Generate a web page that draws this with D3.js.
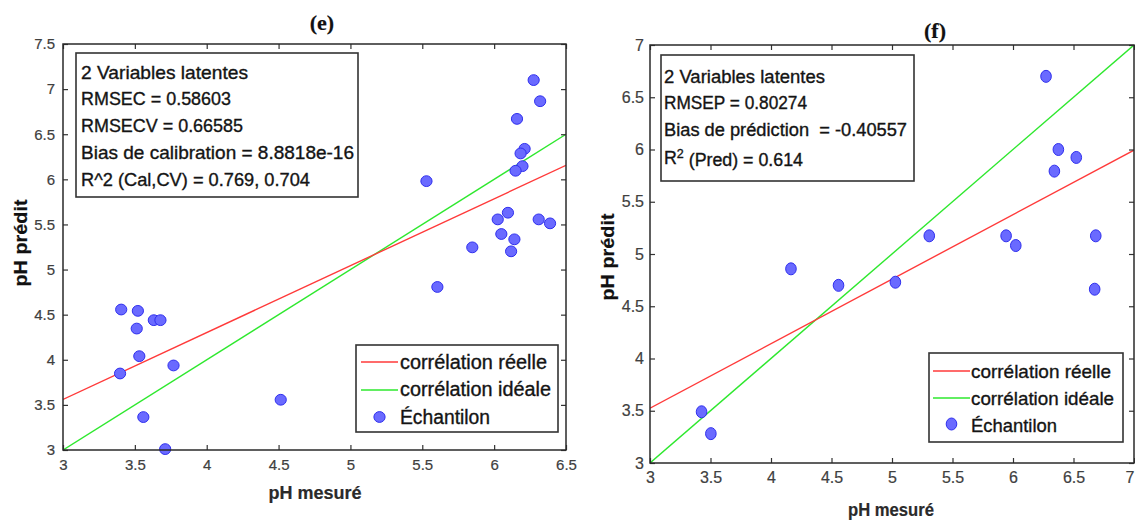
<!DOCTYPE html>
<html>
<head>
<meta charset="utf-8">
<script src="https://cdn.jsdelivr.net/npm/d3@7"></script>
<style>
  body { margin: 0; background: #fff; }
  svg { display: block; }
  text { white-space: pre; }
</style>
</head>
<body>
<svg id="chart" width="1135" height="521"></svg>
<script>
// ---- Panel (e): calibration set ----
const measuredE  = [6.275, 6.32, 6.159, 6.212, 6.184, 6.197, 6.149, 5.529, 6.096, 6.025, 6.05, 6.141, 6.118, 6.31, 6.389, 5.848, 5.605,
                    3.405, 3.521, 3.513, 3.632, 3.678, 3.531, 3.397, 3.769, 4.515, 3.559, 3.711];
const predictedE = [7.10, 6.866, 6.67, 6.338, 6.287, 6.146, 6.095, 5.98, 5.63, 5.556, 5.394, 5.335, 5.202, 5.556, 5.512, 5.246, 4.807,
                    4.557, 4.542, 4.346, 4.439, 4.439, 4.04, 3.848, 3.937, 3.557, 3.365, 3.01];
const xTicksE = [3, 3.5, 4, 4.5, 5, 5.5, 6, 6.5];
const yTicksE = [3, 3.5, 4, 4.5, 5, 5.5, 6, 6.5, 7, 7.5];
const fitXE = [3, 6.5];
const fitYE = [3.56, 6.155];
const statsE = ["2 Variables latentes", "RMSEC = 0.58603", "RMSECV = 0.66585",
                "Bias de calibration = 8.8818e-16", "R^2 (Cal,CV) = 0.769, 0.704"];

// ---- Panel (f): prediction set ----
const measuredF  = [6.273, 6.375, 6.523, 6.342, 5.943, 6.023, 6.684, 6.675, 5.308, 5.028, 4.558, 4.165, 3.426, 3.503];
const predictedF = [6.70, 6.0, 5.924, 5.793, 5.174, 5.081, 5.174, 4.663, 5.174, 4.73, 4.70, 4.858, 3.49, 3.281];
const xTicksF = [3, 3.5, 4, 4.5, 5, 5.5, 6, 6.5, 7];
const yTicksF = [3, 3.5, 4, 4.5, 5, 5.5, 6, 6.5, 7];
const fitXF = [3, 7];
const fitYF = [3.524, 5.994];
const statsF = ["2 Variables latentes", "RMSEP = 0.80274", "Bias de prédiction  = -0.40557", "R|2| (Pred) = 0.614"];

const legendLabels = ["corrélation réelle", "corrélation idéale", "Échantilon"];

const SANS = '"Liberation Sans", Arial, sans-serif';
const SERIF = '"Liberation Serif", "Times New Roman", serif';
const RED = "#ff3a3a", GREEN = "#2ee82e", DOT_FILL = "#6a6aff", DOT_EDGE = "#2f2fee";
const svg = d3.select("#chart");
const defs = svg.append("defs");

// Slightly heavier text rendering
function ink(sel, color, w) {
  return sel.style("fill", color).style("stroke", color).style("stroke-width", w);
}

// Writes a line of text; "|2|" marks a superscript 2.
function writeLine(sel, str) {
  const parts = str.split("|");
  parts.forEach((s, i) => {
    if (i % 2 === 1) sel.append("tspan").attr("dy", "-0.45em").style("font-size", "0.7em").text(s);
    else if (i > 0) sel.append("tspan").attr("dy", "0.45em").text(s);
    else sel.append("tspan").text(s);
  });
}

function drawPanel(p) {
  const g = svg.append("g");
  const x = d3.scaleLinear().domain(p.xDomain).range([p.left, p.right]);
  const y = d3.scaleLinear().domain(p.yDomain).range([p.bottom, p.top]);

  defs.append("clipPath").attr("id", p.id + "-clip")
    .append("rect").attr("x", p.left).attr("y", p.top)
    .attr("width", p.right - p.left).attr("height", p.bottom - p.top);

  const plot = g.append("g").attr("clip-path", `url(#${p.id}-clip)`);

  // ideal correlation y = x
  plot.append("line")
    .attr("x1", x(p.xDomain[0])).attr("y1", y(p.xDomain[0]))
    .attr("x2", x(p.xDomain[1])).attr("y2", y(p.xDomain[1]))
    .attr("stroke", GREEN).attr("stroke-width", 1.4);

  // fitted correlation
  plot.append("line")
    .attr("x1", x(p.fitX[0])).attr("y1", y(p.fitY[0]))
    .attr("x2", x(p.fitX[1])).attr("y2", y(p.fitY[1]))
    .attr("stroke", RED).attr("stroke-width", 1.4);

  // samples
  g.append("g").selectAll("ellipse")
    .data(d3.zip(p.xs, p.ys))
    .join("ellipse")
    .attr("cx", d => x(d[0])).attr("cy", d => y(d[1]))
    .attr("rx", p.rx).attr("ry", p.ry)
    .attr("fill", DOT_FILL).attr("stroke", DOT_EDGE).attr("stroke-width", 1);

  // axes with inward ticks on all four sides
  const fmt = d3.format("~g");
  const axes = [
    [d3.axisBottom(x).tickValues(p.xTicks).tickFormat(fmt), `translate(0,${p.bottom})`],
    [d3.axisTop(x).tickValues(p.xTicks).tickFormat(""), `translate(0,${p.top})`],
    [d3.axisLeft(y).tickValues(p.yTicks).tickFormat(fmt), `translate(${p.left},0)`],
    [d3.axisRight(y).tickValues(p.yTicks).tickFormat(""), `translate(${p.right},0)`]
  ];
  axes.forEach(([ax, tr], i) => {
    const a = g.append("g").attr("transform", tr)
      .call(ax.tickSizeInner(-5).tickSizeOuter(0).tickPadding(i === 0 ? p.xPad : p.yPad));
    a.select(".domain").remove();
    a.selectAll(".tick line").attr("stroke", "#333").attr("stroke-width", 1.2);
    const t = a.selectAll(".tick text").style("font-family", SANS).style("font-size", p.tickFont + "px");
    ink(t, "#404040", 0.2);
    if (i === 0) {
      // keep the last label inside the page edge
      t.filter(d => x(d) > 1125).attr("text-anchor", "end").attr("x", 1134 - x(d3.max(p.xTicks)));
    }
  });

  // axes frame
  g.append("rect").attr("x", p.left).attr("y", p.top)
    .attr("width", p.right - p.left).attr("height", p.bottom - p.top)
    .attr("fill", "none").attr("stroke", "#2a2a2a").attr("stroke-width", 1.5);

  // title and axis titles
  ink(g.append("text").attr("x", p.title[1]).attr("y", p.title[2])
    .attr("text-anchor", "middle").style("font-family", SERIF)
    .style("font-weight", "bold").style("font-size", "22px").text(p.title[0]), "#111", 0.2);
  ink(g.append("text").attr("x", p.xLabel[0]).attr("y", p.xLabel[1])
    .attr("text-anchor", "middle").style("font-family", SANS).style("font-weight", "bold").style("font-size", "18px")
    .attr("textLength", p.xLabel[2]).attr("lengthAdjust", "spacingAndGlyphs")
    .text("pH mesuré"), "#2a2a2a", 0.2);
  ink(g.append("text").attr("transform", `translate(${p.yLabel[0]},${p.yLabel[1]}) rotate(-90)`)
    .attr("text-anchor", "middle").style("font-family", SANS).style("font-weight", "bold").style("font-size", "18px")
    .attr("textLength", p.yLabel[2]).attr("lengthAdjust", "spacingAndGlyphs")
    .text("pH prédit"), "#111", 0.2);

  // statistics box
  const sb = p.statBox;
  g.append("rect").attr("x", sb.x).attr("y", sb.y).attr("width", sb.w).attr("height", sb.h)
    .attr("fill", "#fff").attr("stroke", "#333").attr("stroke-width", 1.6);
  p.stats.forEach((s, i) => {
    const t = g.append("text").attr("x", sb.tx).attr("y", sb.base[i])
      .style("font-family", SANS).style("font-size", sb.font + "px")
      .attr("textLength", sb.widths[i]).attr("lengthAdjust", "spacingAndGlyphs");
    ink(t, "#141414", 0.35);
    writeLine(t, s);
  });

  // legend
  const lg = p.legend;
  g.append("rect").attr("x", lg.x).attr("y", lg.y).attr("width", lg.w).attr("height", lg.h)
    .attr("fill", "#fff").attr("stroke", "#333").attr("stroke-width", 1.6);
  [RED, GREEN].forEach((c, i) => {
    g.append("line").attr("x1", lg.lx[0]).attr("x2", lg.lx[1])
      .attr("y1", lg.rows[i]).attr("y2", lg.rows[i])
      .attr("stroke", c).attr("stroke-width", 1.6);
  });
  g.append("ellipse").attr("cx", (lg.lx[0] + lg.lx[1]) / 2).attr("cy", lg.rows[2])
    .attr("rx", p.rx).attr("ry", p.ry)
    .attr("fill", DOT_FILL).attr("stroke", DOT_EDGE).attr("stroke-width", 1);
  legendLabels.forEach((s, i) => {
    ink(g.append("text").attr("x", lg.tx).attr("y", lg.base[i])
      .style("font-family", SANS).style("font-size", lg.font + "px")
      .attr("textLength", lg.widths[i]).attr("lengthAdjust", "spacingAndGlyphs")
      .text(s), "#141414", 0.35);
  });
}

drawPanel({
  id: "e", xs: measuredE, ys: predictedE, fitX: fitXE, fitY: fitYE,
  xDomain: [3, 6.5], yDomain: [3, 7.5], xTicks: xTicksE, yTicks: yTicksE,
  left: 63, right: 566, top: 44, bottom: 450, rx: 5.6, ry: 5.4,
  tickFont: 15, xPad: 9, yPad: 8,
  title: ["(e)", 322, 30], xLabel: [315, 499, 93], yLabel: [27, 243, 87],
  stats: statsE,
  statBox: { x: 76, y: 53, w: 282, h: 144, tx: 81, base: [79, 105, 132, 159, 186],
             widths: [167, 150, 162, 273, 229], font: 18.5 },
  legend: { x: 356, y: 345, w: 202, h: 87, lx: [361, 398], rows: [362, 390, 417], tx: 400,
            base: [369, 396, 424], widths: [147, 151, 90], font: 19.5 }
});

drawPanel({
  id: "f", xs: measuredF, ys: predictedF, fitX: fitXF, fitY: fitYF,
  xDomain: [3, 7], yDomain: [3, 7], xTicks: xTicksF, yTicks: yTicksF,
  left: 650, right: 1134, top: 45, bottom: 463, rx: 5.3, ry: 6,
  tickFont: 16, xPad: 9, yPad: 6,
  title: ["(f)", 935, 38], xLabel: [891, 516, 86], yLabel: [614, 257, 87],
  stats: statsF,
  statBox: { x: 661, y: 55, w: 253, h: 126, tx: 664, base: [83, 109, 136, 164],
             widths: [161, 143, 243, 139], font: 18.3 },
  legend: { x: 929, y: 353, w: 194, h: 89, lx: [933, 970], rows: [371, 398, 424], tx: 971,
            base: [378, 405, 432], widths: [140, 143, 86], font: 19 }
});
</script>
</body>
</html>
